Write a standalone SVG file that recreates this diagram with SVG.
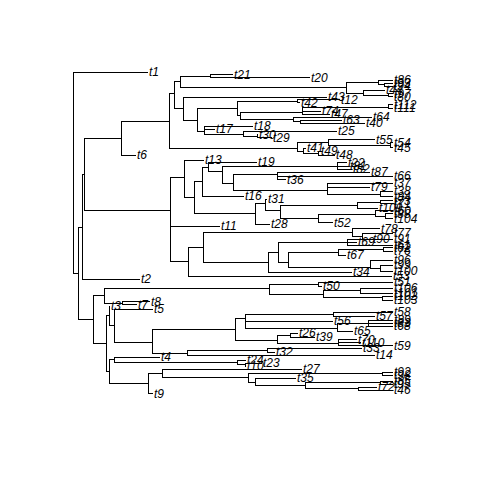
<svg xmlns="http://www.w3.org/2000/svg" width="480" height="480" viewBox="0 0 480 480">
<style>
.br{fill:none;stroke:#000;stroke-width:1;shape-rendering:crispEdges}
.lb{font-family:"Liberation Sans",Arial,sans-serif;font-style:italic;font-size:12px;fill:#000}
</style>
<rect width="480" height="480" fill="#fff"/>
<g id="connectors" class="br">
<path d="M73 72V273M73 72H148M73 273H78M78 227V319M78 227H82M82 174V279M82 174H84M82 279H140M84 138V210M84 138H121M84 210H170"/>
<path d="M121 121V155M121 155H136M121 121H169M169 93V148M169 93H174M174 81V108M174 81H180M180 76V87M180 76H210M210 74.5V77.5M210 74.5H233M210 77.5H310M180 87H346M346 82V93M346 82H378M378 80V84.5M378 80H393M378 84.5H384M384 83V86M384 83H393M384 86H393M346 93H363M363 90V95M363 90H385M363 95H388M388 93.5V96.5M388 93.5H393M388 96.5H393"/>
<path d="M174 108H183M183 97V120M183 97H327M183 120H197M197 108V131M197 108H237M237 101V115M237 101H297M297 99.5V102.5M297 99.5H340M297 102.5H300M237 115H240M240 112V119M240 112H302M302 107V114M302 107H388M388 104.5V108M388 104.5H393M388 108H393M302 111H321M302 114H330M240 119H293M293 117V121.5M293 117H372M293 121.5H300M300 120V123M300 120H342M300 123H365"/>
<path d="M197 131H204M204 126V134M204 126H253M204 129H215M204 134H243M243 131V136M243 131H337M243 136H257M257 134.5V137.5M257 134.5H258M257 137.5H272"/>
<path d="M169 148H297M297 142V151M297 142H328M328 139.5V145M328 139.5H375M328 145H390M390 142.5V147.5M390 142.5H393M390 147.5H393M297 151H303M303 148V153M303 148H306M303 153H318M318 151V155M318 151H320M318 155H335"/>
<path d="M170 177V261M170 177H184M184 160V197M184 160H204M184 197H194M194 181V213M194 181H202M202 167V196M202 196H244M202 167H208M208 162V171M208 162H257M208 171H222M222 166V183M222 166H337M337 162.5V169M337 162.5H347M337 166H349M337 169H352M222 183H233M233 174V190M233 174H277M277 172V179.5M277 172H370M277 176H393M277 179.5H286M233 190H327M327 183V194M327 183H393M327 187H370M327 194H380M380 191V196.5M380 191H393M380 196.5H393"/>
<path d="M194 213H255M255 203V224M255 203H265M265 199V210M265 199H267M265 210H280M280 205V218M280 205H357M357 202V208M357 202H380M380 200.5V203.5M380 200.5H393M380 203.5H393M357 208H378M280 218H318M318 214V222.5M318 214H375M375 210.5V216M375 210.5H393M375 216H385M385 213.5V218.5M385 213.5H393M385 218.5H393M318 222.5H333M255 224H270M170 226H220"/>
<path d="M170 261H188M188 247V276M188 276H392M188 247H203M203 232V262M203 232H352M352 228.5V236M352 228.5H380M352 236H362M362 233V239M362 233H393M362 239H393M203 262H268M268 252V272M268 272H352M268 252H278M278 242V262M278 242H347M347 239V245M347 239H372M347 242H357M347 245H393M278 262H288M288 252.5V267M288 252.5H338M338 249V255M338 249H383M383 247.5V251M383 247.5H393M383 251H393M338 255H346M288 267H370M370 260V268M370 260H393M370 268H380M380 265V271M380 265H393M380 271H393"/>
<path d="M78 319H93M93 295.5V343M93 295.5H104M104 288V303M104 288H269M269 284V294M269 284H318M318 282V286M318 282H393M318 286H322M269 294H323M323 290.5V297.5M323 290.5H360M360 288V293M360 288H393M360 293H393M323 297.5H382M382 296V300M382 296H393M382 300H393M104 303H122M122 301.5V304.5M122 301.5H150M122 304.5H137"/>
<path d="M93 343H106M106 315.5V371.5M106 315.5H109M109 306V325M109 306H110M109 325H114M114 309V342M114 309H153M114 342H152M152 329V353M152 329H235M235 318V340M235 318H245M245 314V328M245 314H333M333 312V316M333 312H393M333 316H375M245 321H333M245 328H337M337 323V331M337 323H368M368 320V326M368 320H393M368 323H393M368 326H393M337 331H353M235 340H277M277 335V343M277 335H290M290 333V337M290 333H298M290 337H315M277 343H338M338 339.5V345.5M338 339.5H357M338 342.5H361M338 345.5H393M152 353H187M187 350V355M187 350H267M267 348V352M267 348H362M267 352H275M187 355H375"/>
<path d="M106 371.5H109M109 359.5V383.5M109 359.5H114M114 357V362M114 357H160M114 362H237M237 360V364.5M237 360H246M237 364.5H245M245 363V366M245 363H262M245 366H246M109 383.5H148M148 373.5V393.5M148 393.5H153M148 373.5H162M162 369V377.5M162 369H302M162 377.5H248M248 373.5V382M248 373.5H382M382 372V375M382 372H393M382 375H393M248 382H255M255 378V385.5M255 378H296M255 385.5H305M305 382.5V388.5M305 382.5H380M380 381V384M380 381H393M380 384H393M305 388.5H358M358 387V390M358 387H377M358 390H393"/>
</g>
<g class="lb">
<g id="tip-t1"><text x="149" y="76">t1</text></g>
<g id="tip-t21"><text x="234" y="78.5">t21</text></g>
<g id="tip-t20"><text x="311" y="81.5">t20</text></g>
<g id="tip-t86"><text x="394" y="84">t86</text></g>
<g id="tip-t93"><text x="394" y="87">t93</text></g>
<g id="tip-t94"><text x="394" y="90">t94</text></g>
<g id="tip-t44"><text x="386" y="94">t44</text></g>
<g id="tip-t97"><text x="394" y="97.5">t97</text></g>
<g id="tip-t80"><text x="394" y="100.5">t80</text></g>
<g id="tip-t43"><text x="328" y="101">t43</text></g>
<g id="tip-t12"><text x="341" y="103.5">t12</text></g>
<g id="tip-t42"><text x="301" y="106.5">t42</text></g>
<g id="tip-t112"><text x="394" y="108.5">t112</text></g>
<g id="tip-t111"><text x="394" y="112">t111</text></g>
<g id="tip-t74"><text x="322" y="115">t74</text></g>
<g id="tip-t47"><text x="331" y="118">t47</text></g>
<g id="tip-t64"><text x="373" y="121">t64</text></g>
<g id="tip-t63"><text x="343" y="124">t63</text></g>
<g id="tip-t40"><text x="366" y="127">t40</text></g>
<g id="tip-t18"><text x="254" y="130">t18</text></g>
<g id="tip-t17"><text x="216" y="133">t17</text></g>
<g id="tip-t25"><text x="338" y="135">t25</text></g>
<g id="tip-t30"><text x="259" y="138.5">t30</text></g>
<g id="tip-t29"><text x="273" y="141.5">t29</text></g>
<g id="tip-t55"><text x="376" y="143.5">t55</text></g>
<g id="tip-t54"><text x="394" y="146.5">t54</text></g>
<g id="tip-t45"><text x="394" y="151.5">t45</text></g>
<g id="tip-t41"><text x="307" y="152">t41</text></g>
<g id="tip-t49"><text x="321" y="155">t49</text></g>
<g id="tip-t48"><text x="336" y="159">t48</text></g>
<g id="tip-t6"><text x="137" y="159">t6</text></g>
<g id="tip-t13"><text x="205" y="164">t13</text></g>
<g id="tip-t19"><text x="258" y="166">t19</text></g>
<g id="tip-t22"><text x="348" y="166.5">t22</text></g>
<g id="tip-t81"><text x="350" y="170">t81</text></g>
<g id="tip-t82"><text x="353" y="173">t82</text></g>
<g id="tip-t87"><text x="371" y="176">t87</text></g>
<g id="tip-t66"><text x="394" y="180">t66</text></g>
<g id="tip-t36"><text x="287" y="183.5">t36</text></g>
<g id="tip-t37"><text x="394" y="187">t37</text></g>
<g id="tip-t79"><text x="371" y="191">t79</text></g>
<g id="tip-t38"><text x="394" y="195">t38</text></g>
<g id="tip-t84"><text x="394" y="200.5">t84</text></g>
<g id="tip-t16"><text x="245" y="200">t16</text></g>
<g id="tip-t31"><text x="268" y="203">t31</text></g>
<g id="tip-t73"><text x="394" y="204.5">t73</text></g>
<g id="tip-t71"><text x="394" y="207.5">t71</text></g>
<g id="tip-t109"><text x="379" y="212">t109</text></g>
<g id="tip-t60"><text x="394" y="214.5">t60</text></g>
<g id="tip-t88"><text x="394" y="217.5">t88</text></g>
<g id="tip-t104"><text x="394" y="222.5">t104</text></g>
<g id="tip-t52"><text x="334" y="226.5">t52</text></g>
<g id="tip-t28"><text x="271" y="228">t28</text></g>
<g id="tip-t11"><text x="221" y="230">t11</text></g>
<g id="tip-t78"><text x="381" y="232.5">t78</text></g>
<g id="tip-t77"><text x="394" y="237">t77</text></g>
<g id="tip-t91"><text x="394" y="243">t91</text></g>
<g id="tip-t90"><text x="373" y="243">t90</text></g>
<g id="tip-t69"><text x="358" y="246">t69</text></g>
<g id="tip-t61"><text x="394" y="249">t61</text></g>
<g id="tip-t62"><text x="394" y="251.5">t62</text></g>
<g id="tip-t76"><text x="394" y="255">t76</text></g>
<g id="tip-t67"><text x="347" y="259">t67</text></g>
<g id="tip-t96"><text x="394" y="264">t96</text></g>
<g id="tip-t99"><text x="394" y="269">t99</text></g>
<g id="tip-t100"><text x="394" y="275">t100</text></g>
<g id="tip-t34"><text x="353" y="276">t34</text></g>
<g id="tip-t53"><text x="393" y="280">t53</text></g>
<g id="tip-t2"><text x="141" y="283">t2</text></g>
<g id="tip-t51"><text x="394" y="286">t51</text></g>
<g id="tip-t50"><text x="323" y="290">t50</text></g>
<g id="tip-t106"><text x="394" y="292">t106</text></g>
<g id="tip-t101"><text x="394" y="297">t101</text></g>
<g id="tip-t102"><text x="394" y="300">t102</text></g>
<g id="tip-t103"><text x="394" y="304">t103</text></g>
<g id="tip-t8"><text x="151" y="305.5">t8</text></g>
<g id="tip-t7"><text x="138" y="308.5">t7</text></g>
<g id="tip-t3"><text x="111" y="310">t3</text></g>
<g id="tip-t5"><text x="154" y="313">t5</text></g>
<g id="tip-t58"><text x="394" y="316">t58</text></g>
<g id="tip-t57"><text x="376" y="320">t57</text></g>
<g id="tip-t56"><text x="334" y="325">t56</text></g>
<g id="tip-t89"><text x="394" y="324">t89</text></g>
<g id="tip-t83"><text x="394" y="327">t83</text></g>
<g id="tip-t68"><text x="394" y="330">t68</text></g>
<g id="tip-t65"><text x="354" y="335">t65</text></g>
<g id="tip-t26"><text x="299" y="337">t26</text></g>
<g id="tip-t39"><text x="316" y="341">t39</text></g>
<g id="tip-t70"><text x="358" y="343.5">t70</text></g>
<g id="tip-t110"><text x="362" y="346.5">t110</text></g>
<g id="tip-t59"><text x="394" y="349.5">t59</text></g>
<g id="tip-t33"><text x="363" y="352">t33</text></g>
<g id="tip-t32"><text x="276" y="356">t32</text></g>
<g id="tip-t14"><text x="376" y="359">t14</text></g>
<g id="tip-t4"><text x="161" y="361">t4</text></g>
<g id="tip-t24"><text x="247" y="364">t24</text></g>
<g id="tip-t23"><text x="263" y="367">t23</text></g>
<g id="tip-t10"><text x="247" y="370">t10</text></g>
<g id="tip-t27"><text x="303" y="373">t27</text></g>
<g id="tip-t92"><text x="394" y="376">t92</text></g>
<g id="tip-t98"><text x="394" y="379">t98</text></g>
<g id="tip-t35"><text x="297" y="382">t35</text></g>
<g id="tip-t85"><text x="394" y="385">t85</text></g>
<g id="tip-t95"><text x="394" y="388">t95</text></g>
<g id="tip-t72"><text x="378" y="391">t72</text></g>
<g id="tip-t46"><text x="394" y="394">t46</text></g>
<g id="tip-t9"><text x="154" y="397.5">t9</text></g>
</g>
</svg>
